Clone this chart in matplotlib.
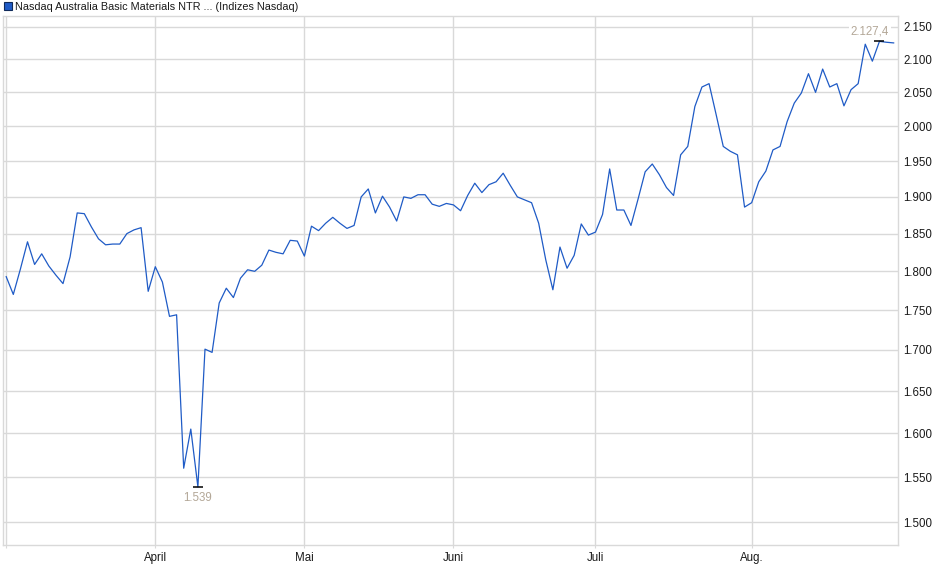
import numpy as np
import pandas as pd
import matplotlib
matplotlib.use("Agg")
import matplotlib.pyplot as plt
from matplotlib.patches import Rectangle
from matplotlib.ticker import FixedLocator, NullLocator

plt.rcParams['font.family'] = ['Liberation Sans', 'DejaVu Sans']

# trading days (US calendar), March 3 - Aug 29 2025
holidays = ["2025-04-18", "2025-05-26", "2025-06-19", "2025-07-04"]
dates = pd.bdate_range("2025-03-03", "2025-08-29")
dates = dates[~dates.isin(pd.to_datetime(holidays))]

# index level
values = [
    1793, 1770, 1803, 1839, 1809, 1823, 1807, 1795, 1784, 1819,
    1878, 1877, 1859, 1843, 1835, 1836, 1836, 1850, 1855, 1858,
    1774, 1806, 1786, 1742, 1744, 1560, 1605, 1539, 1701, 1697,
    1759, 1778, 1766, 1791, 1802, 1800, 1808, 1828, 1825, 1823,
    1841, 1840, 1820, 1860, 1854, 1864, 1872, 1864, 1857, 1861,
    1900, 1911, 1878, 1901, 1886, 1867, 1900, 1898, 1903, 1903,
    1890, 1887, 1891, 1889, 1881, 1902, 1919, 1906, 1917, 1921,
    1933, 1916, 1900, 1896, 1892, 1864, 1815, 1776, 1832, 1804,
    1821, 1863, 1848, 1852, 1876, 1939, 1882, 1882, 1861, 1897,
    1935, 1946, 1931, 1913, 1902, 1959, 1971, 2029, 2058, 2063,
    2017, 1971, 1964, 1959, 1886, 1892, 1921, 1936, 1966, 1971,
    2007, 2034, 2049, 2078, 2050, 2085, 2058, 2063, 2030, 2054,
    2063, 2123, 2097, 2127.4, 2126, 2125,
]

month_labels = ["", "April", "Mai", "Juni", "Juli", "Aug."]
y_ticks = [1500, 1550, 1600, 1650, 1700, 1750, 1800, 1850, 1900, 1950,
           2000, 2050, 2100, 2150]

title = "Nasdaq Australia Basic Materials NTR ... (Indizes Nasdaq)"
line_color = "#1f5bc6"
grid_color = "#d9d9d9"
note_color = "#b3a797"

df = pd.DataFrame({"date": dates, "value": values})
x = np.arange(len(df))

# first trading day of every month
month_pos = df.groupby(df["date"].dt.to_period("M")).head(1).index.tolist()

fig = plt.figure(figsize=(9.4, 5.79), dpi=100)
ax = fig.add_axes([0.0029, 0.0582, 0.9527, 0.9142])

ax.plot(x, df["value"], color=line_color, linewidth=0.9, zorder=3)

ax.set_yscale("log")
ax.set_ylim(1475, 2167)
ax.set_xlim(-0.49, 125.65)

ax.yaxis.set_major_locator(FixedLocator(y_ticks))
ax.yaxis.set_minor_locator(NullLocator())
ax.set_yticklabels([f"{v:,}".replace(",", ".") for v in y_ticks])
ax.yaxis.tick_right()
ax.tick_params(axis="y", length=0, pad=3.5, labelsize=8.3, colors="#1a1a1a")

ax.set_xticks(month_pos)
ax.set_xticklabels(month_labels)
ax.tick_params(axis="x", length=2, pad=3, labelsize=8.3, colors="#1a1a1a")
ax.tick_params(axis="x", color=grid_color)

ax.grid(True, color=grid_color, linewidth=1)
ax.set_axisbelow(True)
for s in ax.spines.values():
    s.set_color(grid_color)
    s.set_linewidth(1)

# min / max markers
imin = int(np.argmin(values))
imax = int(np.argmax(values))
for i in (imin, imax):
    ax.plot(x[i], values[i], marker="_", color="black", markersize=7,
            markeredgewidth=1.1, zorder=4)
ax.annotate(f"{values[imin]:,.0f}".replace(",", "."), (x[imin], values[imin]),
            xytext=(0, -3.5), textcoords="offset points", ha="center", va="top",
            fontsize=8.3, color=note_color)
max_txt = f"{values[imax]:,.1f}".replace(",", "X").replace(".", ",").replace("X", ".")
ax.annotate(max_txt, (x[imax], values[imax]), xytext=(7, 3),
            textcoords="offset points", ha="right", va="bottom",
            fontsize=8.3, color=note_color,
            bbox=dict(facecolor="white", edgecolor="none", pad=1))

# legend entry at the top
fig.patches.append(Rectangle((4 / 940, 1 - 10 / 579), 8 / 940, 8 / 579,
                             transform=fig.transFigure, facecolor=line_color,
                             edgecolor="#102a5a", linewidth=0.8))
fig.text(15 / 940, 1 - 6.5 / 579, title, ha="left", va="center",
         fontsize=7.8, color="#1a1a1a")

fig.savefig("out.png", dpi=100)
